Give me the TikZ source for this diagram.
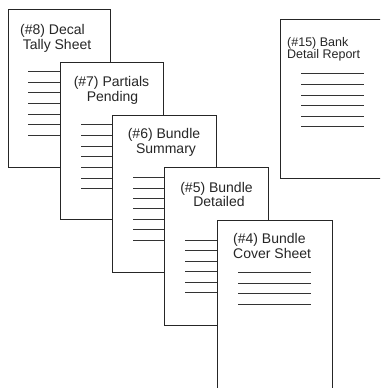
\documentclass[tikz,border=0pt]{standalone}
\usepackage{fontspec}
\setmainfont{Liberation Sans}
\begin{document}
\begin{tikzpicture}[x=1pt,y=-1pt,
  page/.style={draw=black!85,fill=white,line width=1pt},
  rule/.style={draw=black!80,line width=1pt},
  lbl/.style={inner sep=0pt,font=\fontsize{14}{15}\selectfont,text=black!85,anchor=base},
  lblw/.style={lbl,anchor=base west},
  lbls/.style={lblw,font=\fontsize{12.5}{12}\selectfont}]
\useasboundingbox (0,0) rectangle (380,388);
\clip (0,0) rectangle (380,388);
% #8
\path[page] (8,9) rectangle (110,167);
\node[lbl] (t8a) at (52.5,34) {(\#8) Decal};
\node[lbl] (t8b) at (57,49) {Tally Sheet};
\foreach \y in {71,82,92,103,114,124,135} \draw[rule] (28,\y) -- (90,\y);
% #7
\path[page] (60,62) rectangle (163,219);
\node[lbl] (t7a) at (111.5,86) {(\#7) Partials};
\node[lbl] (t7b) at (112.5,101) {Pending};
\foreach \y in {124,135,146,156,167,178,188} \draw[rule] (81,\y) -- (142,\y);
% #6
\path[page] (112,115) rectangle (216,272);
\node[lbl] (t6a) at (164,138) {(\#6) Bundle};
\node[lbl] (t6b) at (166,153) {Summary};
\foreach \y in {177,188,198,208,219,229,240} \draw[rule] (133,\y) -- (195,\y);
% #5
\path[page] (164,167) rectangle (268,325);
\node[lbl] (t5a) at (216.5,192) {(\#5) Bundle};
\node[lbl] (t5b) at (219,206) {Detailed};
\foreach \y in {240,250,261,271,282,292} \draw[rule] (185,\y) -- (247,\y);
% #4
\path[page] (217,220) rectangle (332,395);
\node[lblw] (t4a) at (233,243) {(\#4) Bundle};
\node[lblw] (t4b) at (233,258) {Cover Sheet};
\foreach \y in {272,283,293,304} \draw[rule] (238,\y) -- (311,\y);
% #15
\path[page] (280,19) rectangle (395,178);
\node[lbls] (t15a) at (287,46) {(\#15) Bank};
\node[lbls] (t15b) at (287,58) {Detail Report};
\foreach \y in {73,84,95,105,116,126} \draw[rule] (301,\y) -- (364,\y);
\end{tikzpicture}
\end{document}
